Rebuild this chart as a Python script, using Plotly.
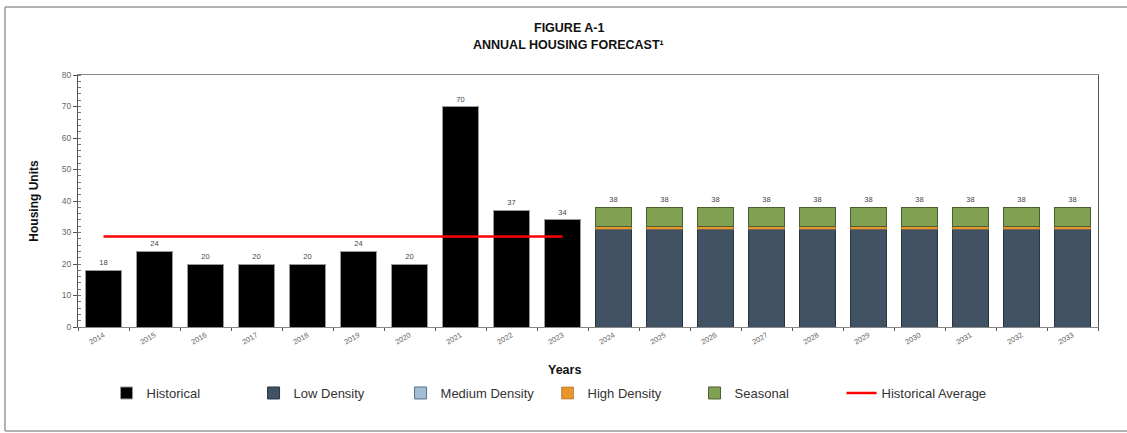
import plotly.graph_objects as go

years = [str(y) for y in range(2014, 2034)]
hist_years = years[:10]
fc_years = years[10:]

historical = [18, 24, 20, 20, 20, 24, 20, 70, 37, 34]
low_density = [31] * 10
medium_density = [0] * 10
high_density = [1] * 10
seasonal = [6] * 10

hist_avg = sum(historical) / len(historical)
fc_totals = [a + b + c + d for a, b, c, d in zip(low_density, medium_density, high_density, seasonal)]

FONT = "Liberation Sans, Arial, sans-serif"
lblfont = dict(family=FONT, size=7.5, color="#444")

fig = go.Figure()
fig.add_trace(go.Bar(
    name="Historical", x=hist_years, y=historical,
    marker=dict(color="#000000", line=dict(color="#9a9a9a", width=1)),
    text=[str(v) for v in historical], textposition="outside", textfont=lblfont,
    cliponaxis=False,
))
fig.add_trace(go.Bar(
    name="Low Density", x=fc_years, y=low_density,
    marker=dict(color="#405263", line=dict(color="#2a3540", width=1)),
))
fig.add_trace(go.Bar(
    name="Medium Density", x=fc_years, y=medium_density,
    marker=dict(color="#A3BCD6", line=dict(color="#5a6f85", width=1)),
))
fig.add_trace(go.Bar(
    name="High Density", x=fc_years, y=high_density,
    marker=dict(color="#E8962A", line=dict(color="#8a5a18", width=0.5)),
))
fig.add_trace(go.Bar(
    name="Seasonal", x=fc_years, y=seasonal,
    marker=dict(color="#80A152", line=dict(color="#4a5f30", width=1)),
    text=[str(v) for v in fc_totals], textposition="outside", textfont=lblfont,
    cliponaxis=False,
))
fig.add_trace(go.Scatter(
    name="Historical Average", x=[hist_years[0], hist_years[-1]], y=[hist_avg, hist_avg],
    mode="lines", line=dict(color="#FF0000", width=2.5),
))

fig.update_layout(
    width=1127, height=433,
    margin=dict(l=78, r=29, t=75, b=106),
    paper_bgcolor="white", plot_bgcolor="white",
    barmode="stack", bargap=0.28,
    font=dict(family=FONT, color="#222"),
    legend=dict(
        orientation="h", x=0.028, xanchor="left", y=-0.262, yanchor="middle",
        entrywidth=102, entrywidthmode="pixels", itemwidth=30,
        font=dict(family=FONT, size=13, color="#333"),
        traceorder="normal",
    ),
    showlegend=True,
    uniformtext=dict(minsize=6, mode="show"),
)

fig.update_xaxes(
    type="category", categoryorder="array", categoryarray=years,
    showline=True, linecolor="#888", linewidth=1, mirror=True,
    ticks="outside", tickson="boundaries", ticklen=3, tickcolor="#555",
    tickangle=-30, tickfont=dict(family=FONT, size=7.5, color="#666"),
    showgrid=False,
)
fig.update_yaxes(
    range=[0, 80], dtick=10,
    showline=True, linecolor="#555", linewidth=1, mirror=True,
    ticks="outside", ticklen=4, tickcolor="#555",
    minor=dict(dtick=2, ticks="inside", ticklen=3, tickcolor="#777"),
    tickfont=dict(family=FONT, size=8.5, color="#666"),
    showgrid=False, zeroline=False,
    title=dict(text="<b>Housing Units</b>", font=dict(family=FONT, size=12, color="#111"), standoff=20),
)

fig.add_annotation(
    text="<b>FIGURE A-1</b>", xref="paper", yref="paper", x=0.481, y=(327 - 28) / 252,
    xanchor="center", yanchor="middle", showarrow=False,
    font=dict(family=FONT, size=12.5, color="#111"),
)
fig.add_annotation(
    text="<b>ANNUAL HOUSING FORECAST¹</b>", xref="paper", yref="paper", x=0.481, y=(327 - 45) / 252,
    xanchor="center", yanchor="middle", showarrow=False,
    font=dict(family=FONT, size=12.5, color="#111"),
)
fig.add_annotation(
    text="<b>Years</b>", xref="paper", yref="paper", x=0.477, y=-0.171,
    xanchor="center", yanchor="middle", showarrow=False,
    font=dict(family=FONT, size=12.5, color="#111"),
)

# outer frame
fig.add_shape(type="line", xref="paper", yref="paper", x0=-0.0716, x1=1.05, y0=1.27, y1=1.27,
              line=dict(color="#999", width=1.5))
fig.add_shape(type="line", xref="paper", yref="paper", x0=-0.0716, x1=-0.0716, y0=1.27, y1=-0.413,
              line=dict(color="#999", width=1.5))
fig.add_shape(type="line", xref="paper", yref="paper", x0=-0.0716, x1=1.05, y0=-0.413, y1=-0.413,
              line=dict(color="#999", width=1.5))

fig.write_html("out.html")
